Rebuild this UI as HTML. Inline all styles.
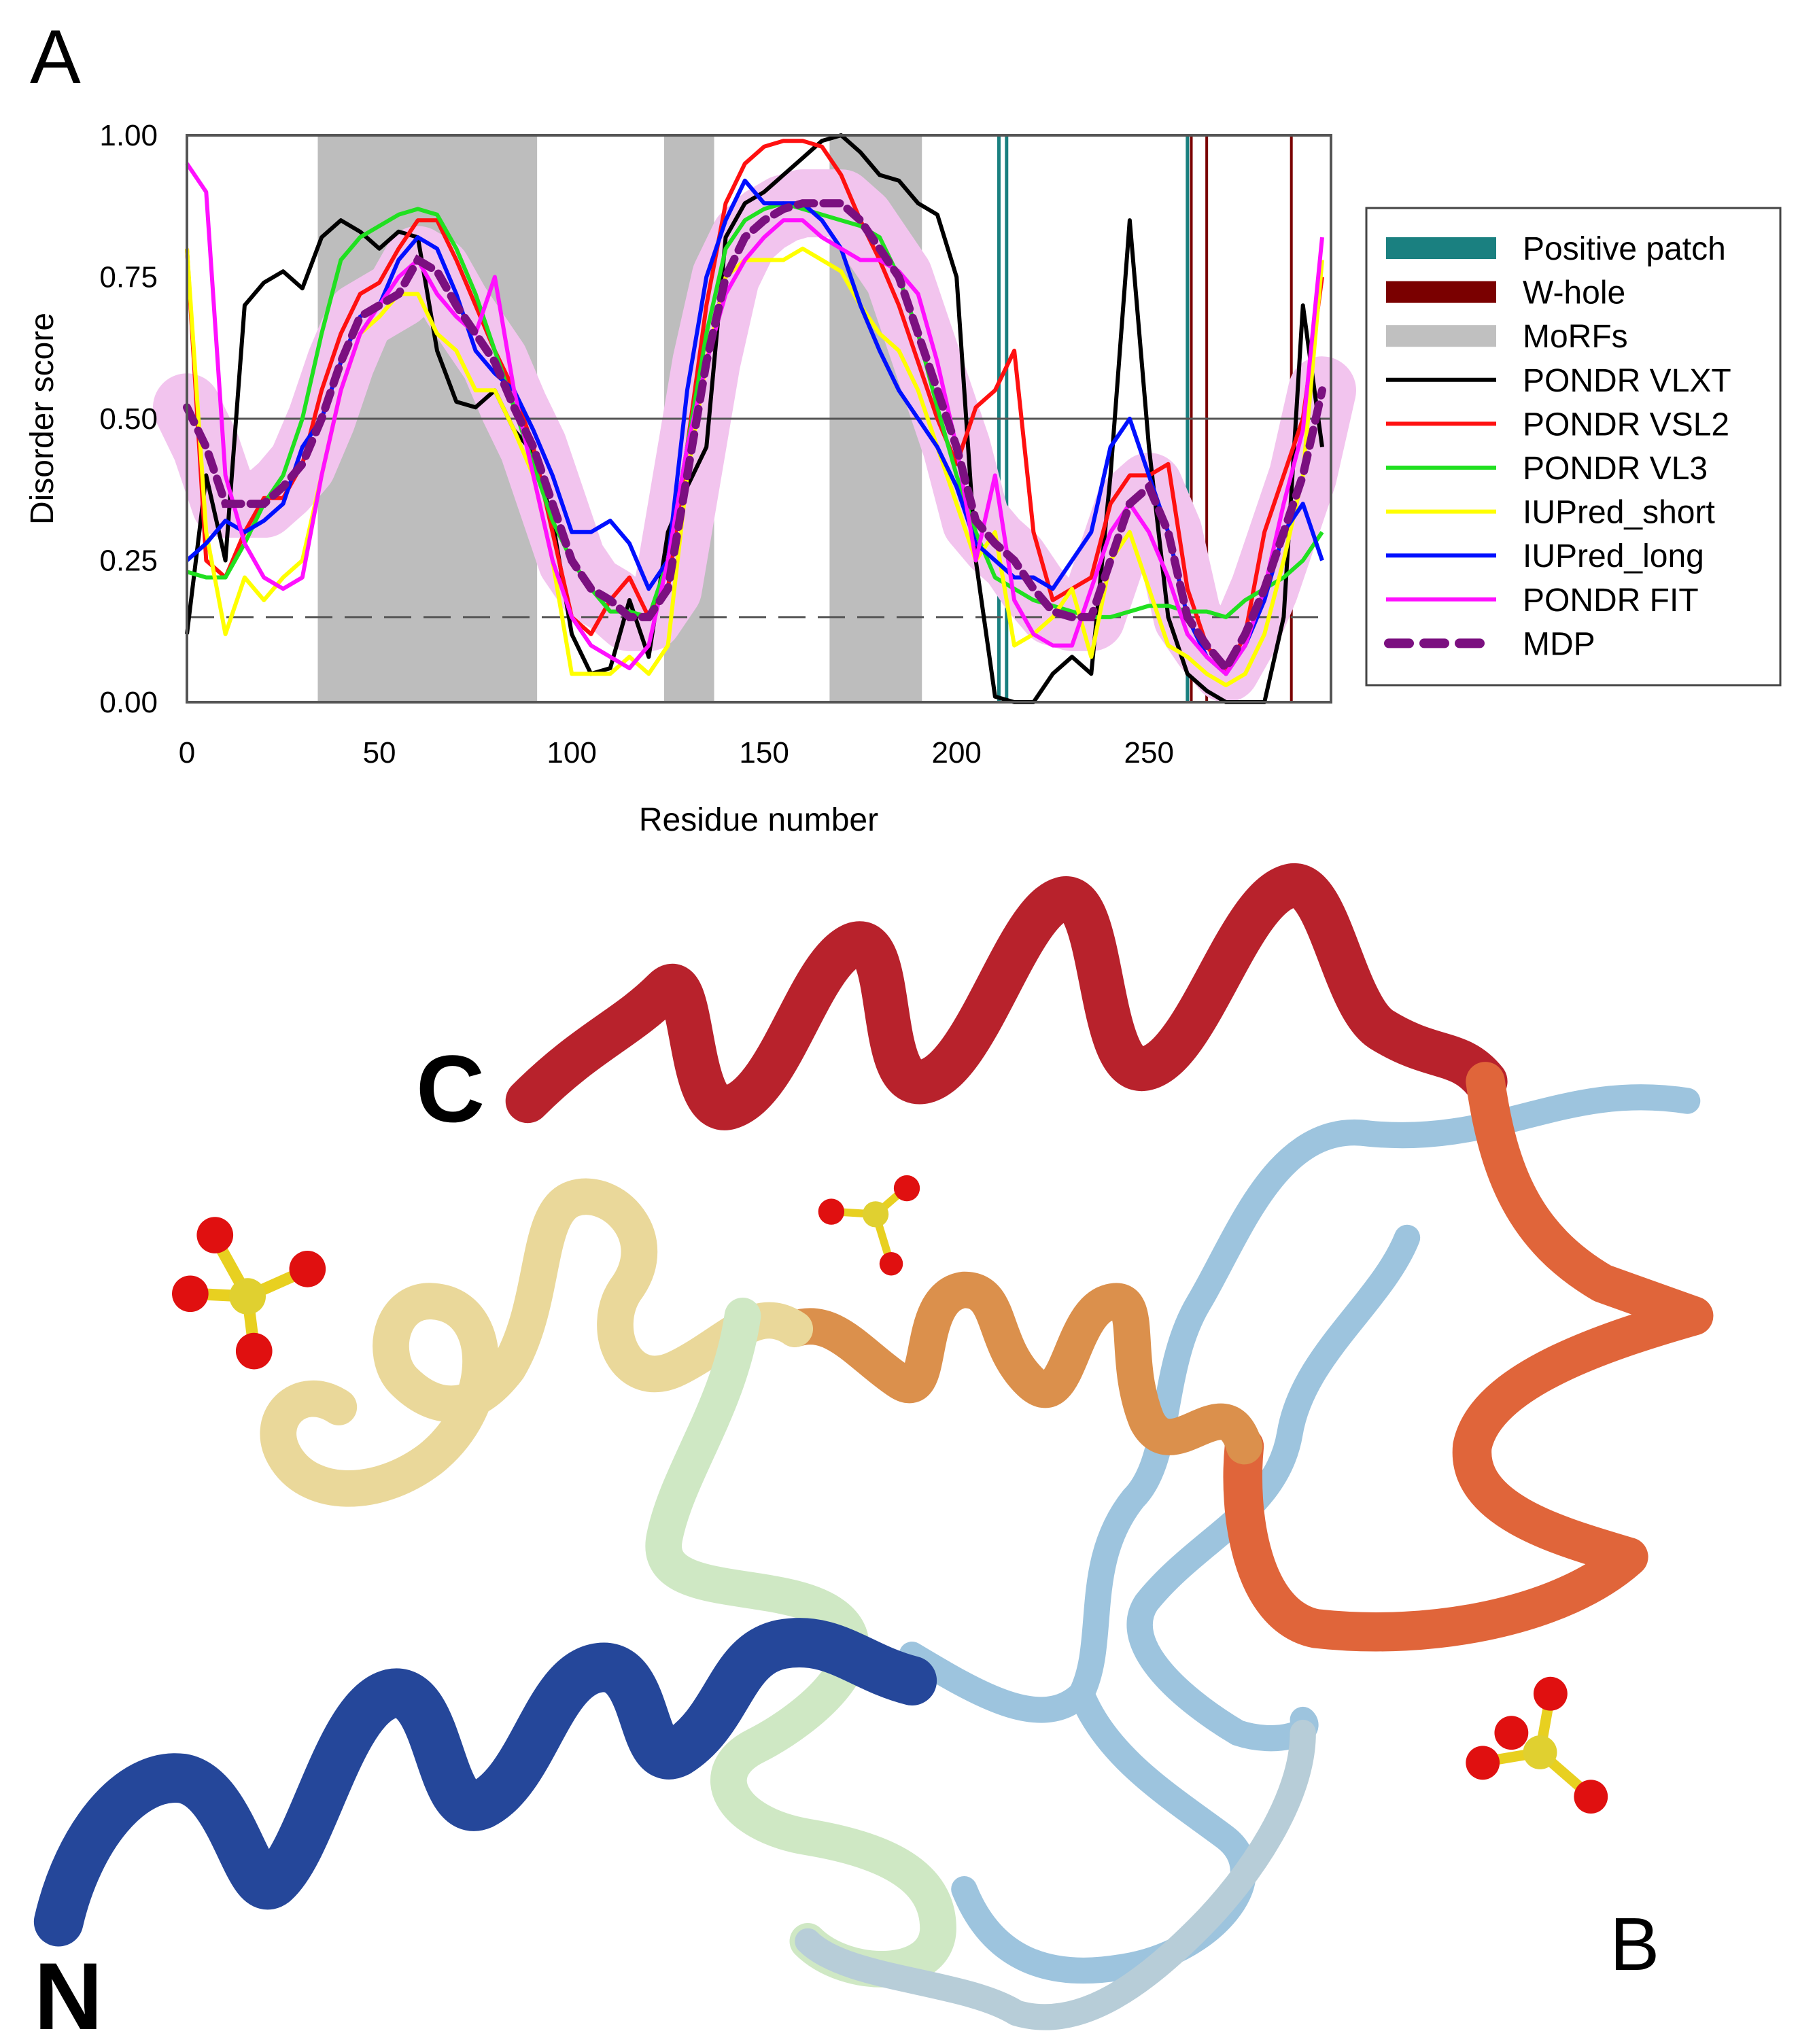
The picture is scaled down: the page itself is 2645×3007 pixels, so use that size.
<!DOCTYPE html>
<html><head><meta charset="utf-8">
<style>
html,body{margin:0;padding:0;background:#fff;}
svg{display:block;}
text{font-family:"Liberation Sans",sans-serif;}
</style></head>
<body>
<svg id="root" width="2645" height="3007" viewBox="0 0 2645 3007" xmlns="http://www.w3.org/2000/svg">
<rect width="2645" height="3007" fill="#fff"/>
<text x="44" y="122" font-size="112">A</text>
<g id="chart"></g>
<g id="axes"></g>
<text transform="translate(78,616) rotate(-90)" text-anchor="middle" font-size="48">Disorder score</text>
<text x="1116" y="1222" text-anchor="middle" font-size="48">Residue number</text>
<g id="legend">
<rect x="2010" y="306" width="609" height="702" fill="#fff" stroke="#444" stroke-width="3"/>
</g>
<g transform="scale(1.9167)" fill="none" stroke-linecap="round" stroke-linejoin="round">
<path stroke="#9dc4de" stroke-width="20" d="M1295,845 C1200,830 1150,880 1050,870 C980,860 950,950 920,1000 C890,1050 900,1120 870,1150 C830,1200 850,1260 830,1300 C800,1330 750,1300 700,1270 M1080,950 C1060,1000 1000,1040 990,1100 C980,1160 920,1180 880,1230 C860,1260 900,1300 950,1330 C980,1340 1010,1330 1000,1320 M830,1300 C850,1350 900,1380 940,1410 C980,1440 930,1500 860,1510 C800,1520 760,1500 740,1450"/>
<path stroke="#b8222c" stroke-width="34" d="M405,845 C450,800 480,790 510,760 C535,735 525,860 560,850 C600,838 620,740 655,725 C690,712 670,840 710,830 C750,820 780,700 815,690 C850,680 840,830 880,820 C920,810 950,690 990,680 C1020,672 1030,770 1060,790 C1100,815 1120,805 1140,830"/>
<path stroke="#e0653a" stroke-width="30" d="M1140,830 C1150,900 1170,950 1230,985 L1300,1010 C1230,1030 1140,1060 1130,1110 C1125,1160 1200,1180 1250,1195 C1200,1240 1100,1260 1010,1250 C960,1240 950,1160 955,1110"/>
<path stroke="#db904c" stroke-width="28" d="M955,1110 C940,1060 900,1130 880,1090 C860,1040 880,990 850,1000 C820,1010 820,1090 790,1060 C760,1030 770,990 740,990 C700,995 720,1080 690,1060 C660,1040 640,1010 610,1020"/>
<path stroke="#ead89a" stroke-width="28" d="M610,1020 C580,1000 560,1030 520,1050 C480,1070 460,1020 480,990 C510,950 470,910 440,920 C410,930 420,1000 390,1050 C360,1090 330,1080 310,1060 C290,1040 300,990 340,1000 C380,1010 380,1080 330,1120 C290,1150 240,1150 220,1120 C200,1090 230,1060 260,1080"/>
<path stroke="#cfe8c4" stroke-width="28" d="M570,1010 C560,1080 520,1130 510,1180 C500,1230 600,1210 640,1240 C680,1270 620,1320 580,1340 C540,1360 560,1400 620,1410 C680,1420 720,1440 720,1480 C720,1520 650,1520 620,1490"/>
<path stroke="#25479a" stroke-width="38" d="M45,1475 C60,1410 100,1360 140,1365 C180,1372 190,1460 210,1445 C240,1420 260,1310 300,1300 C340,1292 335,1400 370,1385 C410,1365 420,1285 460,1280 C500,1275 490,1360 520,1345 C560,1320 560,1270 600,1262 C640,1255 660,1280 700,1290"/>
<path stroke="#b7cdd8" stroke-width="20" d="M620,1490 C650,1520 740,1520 780,1545 C830,1560 880,1520 920,1480 C960,1440 1000,1380 1000,1330"/>
</g>
<g transform="scale(1.9167)">
<g><line x1="190" y1="995" x2="165" y2="950" stroke="#e8d020" stroke-width="9"/><line x1="190" y1="995" x2="235" y2="975" stroke="#e8d020" stroke-width="9"/><line x1="190" y1="995" x2="195" y2="1035" stroke="#e8d020" stroke-width="9"/><line x1="190" y1="995" x2="148" y2="993" stroke="#e8d020" stroke-width="9"/><circle cx="190" cy="995" r="14" fill="#e0d030"/><circle cx="165" cy="948" r="14" fill="#e01010"/><circle cx="236" cy="974" r="14" fill="#e01010"/><circle cx="195" cy="1037" r="14" fill="#e01010"/><circle cx="146" cy="993" r="14" fill="#e01010"/></g>
<g><line x1="672" y1="932" x2="640" y2="930" stroke="#e8d020" stroke-width="6"/><line x1="672" y1="932" x2="695" y2="912" stroke="#e8d020" stroke-width="6"/><line x1="672" y1="932" x2="683" y2="968" stroke="#e8d020" stroke-width="6"/><circle cx="672" cy="932" r="10" fill="#e0d030"/><circle cx="638" cy="930" r="10" fill="#e01010"/><circle cx="696" cy="912" r="10" fill="#e01010"/><circle cx="684" cy="970" r="9" fill="#e01010"/></g>
<g><line x1="1182" y1="1345" x2="1190" y2="1300" stroke="#e8d020" stroke-width="8"/><line x1="1182" y1="1345" x2="1140" y2="1352" stroke="#e8d020" stroke-width="8"/><line x1="1182" y1="1345" x2="1220" y2="1378" stroke="#e8d020" stroke-width="8"/><circle cx="1182" cy="1345" r="13" fill="#e0d030"/><circle cx="1190" cy="1300" r="13" fill="#e01010"/><circle cx="1138" cy="1353" r="13" fill="#e01010"/><circle cx="1221" cy="1379" r="13" fill="#e01010"/><circle cx="1160" cy="1330" r="13" fill="#e01010"/></g>
</g>
<text x="612" y="1650" font-size="140" font-weight="bold">C</text>
<text x="50" y="2985" font-size="140" font-weight="bold">N</text>
<text x="2368" y="2898" font-size="110">B</text>
</svg>
<script>
const residues=[0,5,10,15,20,25,30,35,40,45,50,55,60,65,70,75,80,85,90,95,100,105,110,115,120,125,130,135,140,145,150,155,160,165,170,175,180,185,190,195,200,205,210,215,220,225,230,235,240,245,250,255,260,265,270,275,280,285,290,295];
const vlxt=[.12,.40,.25,.70,.74,.76,.73,.82,.85,.83,.80,.83,.82,.62,.53,.52,.55,.48,.44,.32,.12,.05,.06,.18,.08,.30,.38,.45,.82,.88,.90,.93,.96,.99,1.0,.97,.93,.92,.88,.86,.75,.25,.01,0,0,.05,.08,.05,.40,.85,.45,.15,.05,.02,0,0,0,.15,.70,.45];
const vsl2=[.80,.25,.22,.30,.36,.36,.42,.55,.65,.72,.74,.80,.85,.85,.78,.70,.62,.55,.45,.30,.15,.12,.18,.22,.15,.20,.45,.70,.88,.95,.98,.99,.99,.98,.93,.85,.78,.70,.60,.50,.42,.52,.55,.62,.30,.18,.20,.22,.35,.40,.40,.42,.20,.10,.05,.12,.30,.40,.50,.75];
const vl3=[.23,.22,.22,.28,.35,.40,.50,.65,.78,.82,.84,.86,.87,.86,.80,.72,.62,.52,.42,.32,.25,.20,.16,.16,.15,.25,.45,.65,.80,.85,.87,.88,.87,.86,.85,.84,.82,.75,.65,.52,.40,.30,.22,.20,.18,.17,.16,.15,.15,.16,.17,.17,.16,.16,.15,.18,.20,.22,.25,.30];
const iupShort=[.80,.30,.12,.22,.18,.22,.25,.40,.55,.65,.68,.72,.72,.65,.62,.55,.55,.48,.40,.25,.05,.05,.05,.08,.05,.10,.40,.60,.75,.78,.78,.78,.80,.78,.76,.70,.65,.62,.55,.45,.35,.25,.30,.10,.12,.15,.20,.08,.25,.30,.20,.10,.08,.05,.03,.05,.12,.25,.40,.78];
const iupLong=[.25,.28,.32,.30,.32,.35,.45,.50,.60,.68,.70,.78,.82,.80,.72,.62,.58,.55,.48,.40,.30,.30,.32,.28,.20,.25,.55,.75,.85,.92,.88,.88,.88,.85,.80,.70,.62,.55,.50,.45,.38,.28,.25,.22,.22,.20,.25,.30,.45,.50,.40,.30,.15,.08,.05,.10,.18,.30,.35,.25];
const pondrFit=[.95,.90,.40,.28,.22,.20,.22,.40,.55,.65,.70,.75,.78,.72,.68,.65,.75,.55,.40,.25,.15,.10,.08,.06,.10,.25,.45,.60,.72,.78,.82,.85,.85,.82,.80,.78,.78,.76,.72,.60,.45,.25,.40,.18,.12,.10,.10,.20,.30,.35,.30,.22,.12,.08,.05,.10,.20,.35,.48,.82];
const mdp=[.52,.45,.35,.35,.35,.38,.42,.50,.60,.68,.70,.72,.78,.76,.70,.65,.60,.52,.45,.35,.25,.20,.18,.15,.15,.20,.40,.60,.75,.82,.85,.87,.88,.88,.88,.85,.80,.75,.65,.55,.45,.32,.28,.25,.20,.16,.15,.15,.25,.35,.38,.30,.15,.10,.06,.12,.20,.30,.40,.55];
const morfStarts=[34,124,167];
const morfEnds=[91,137,191];
const positivePatch=[211,213,260];
const wHole=[261,265,287];
const xTicks=[0,50,100,150,200,250];
const yTicks=[0,0.25,0.5,0.75,1.0];
const yTickLabels=["0.00","0.25","0.50","0.75","1.00"];

const X0=275,X1=1958,Y0=1033,Y1=199,XMAX=297.3;
const xs=r=>X0+r/XMAX*(X1-X0);
const ys=v=>Y0-v*(Y0-Y1);
const NS='http://www.w3.org/2000/svg';
const chart=document.getElementById('chart'),axes=document.getElementById('axes'),legend=document.getElementById('legend');
function mk(tag,attrs,parent){const e=document.createElementNS(NS,tag);for(const k in attrs)e.setAttribute(k,attrs[k]);parent.appendChild(e);return e;}
morfStarts.forEach((s,i)=>{
 const r=mk('rect',{x:xs(s),y:Y1,width:xs(morfEnds[i])-xs(s),height:Y0-Y1,fill:'#bdbdbd'},chart);
 
 
});
positivePatch.forEach(p=>{
 const l=mk('line',{x1:xs(p),x2:xs(p),y1:Y1,y2:Y0,stroke:'#1a8080','stroke-width':5},chart);
 
 
});
wHole.forEach(p=>{
 const l=mk('line',{x1:xs(p),x2:xs(p),y1:Y1,y2:Y0,stroke:'#7a0000','stroke-width':4},chart);
 
 
});
function pathD(vals){return vals.map((v,i)=>(i?'L':'M')+xs(residues[i]).toFixed(1)+','+ys(v).toFixed(1)).join(' ');}
const band=mk('path',{d:pathD(mdp),fill:'none',stroke:'#f2c4ee','stroke-width':100,'stroke-linejoin':'round','stroke-linecap':'round'},chart);


const ref1=mk('line',{x1:X0,x2:X1,y1:ys(0.5),y2:ys(0.5),stroke:'#555','stroke-width':3},chart);


const ref2=mk('line',{x1:X0,x2:X1,y1:ys(0.15),y2:ys(0.15),stroke:'#555','stroke-width':3,'stroke-dasharray':'40,18'},chart);


const series=[[vlxt,'#000','PONDR VLXT','vlxt-line'],[vsl2,'#ff1010','PONDR VSL2','vsl2-line'],[vl3,'#20e020','PONDR VL3','vl3-line'],[iupShort,'#ffff00','IUPred_short','iupred-short-line'],[iupLong,'#0010ff','IUPred_long','iupred-long-line'],[pondrFit,'#ff10ff','PONDR FIT','pondr-fit-line']];
series.forEach(s=>{
 const p=mk('path',{d:pathD(s[0]),fill:'none',stroke:s[1],'stroke-width':6,'stroke-linejoin':'round'},chart);
 
 
});
const m=mk('path',{d:pathD(mdp),fill:'none',stroke:'#7b1080','stroke-width':12,'stroke-dasharray':'24,14','stroke-linecap':'round'},chart);


const fr=mk('rect',{x:X0,y:Y1,width:X1-X0,height:Y0-Y1,fill:'none',stroke:'#555','stroke-width':4},axes);


xTicks.forEach(t=>{
 const tx=mk('text',{x:xs(t),y:1122,'text-anchor':'middle','font-size':44},axes);
 tx.textContent=String(t);
 
 
});
yTicks.forEach((t,i)=>{
 const tx=mk('text',{x:232,y:ys(t)+15,'text-anchor':'end','font-size':44},axes);
 tx.textContent=yTickLabels[i];
 
 
});
const legItems=[['rect','#1a8080','Positive patch'],['rect','#7a0000','W-hole'],['rect','#c0c0c0','MoRFs'],['line','#000','PONDR VLXT'],['line','#ff1010','PONDR VSL2'],['line','#20e020','PONDR VL3'],['line','#ffff00','IUPred_short'],['line','#0010ff','IUPred_long'],['line','#ff10ff','PONDR FIT'],['dash','#7b1080','MDP']];
legItems.forEach((it,i)=>{
 const cy=365+i*64.6;
 let sw;
 if(it[0]==='rect') sw=mk('rect',{x:2039,y:cy-16,width:162,height:32,fill:it[1]},legend);
 else if(it[0]==='line') sw=mk('line',{x1:2039,x2:2201,y1:cy,y2:cy,stroke:it[1],'stroke-width':6},legend);
 else sw=mk('line',{x1:2043,x2:2180,y1:cy,y2:cy,stroke:it[1],'stroke-width':14,'stroke-dasharray':'30,22','stroke-linecap':'round'},legend);
 
 
 const tx=mk('text',{x:2240,y:cy+17,'font-size':48},legend);
 tx.textContent=it[2];
 
 
});
</script>
</body></html>
